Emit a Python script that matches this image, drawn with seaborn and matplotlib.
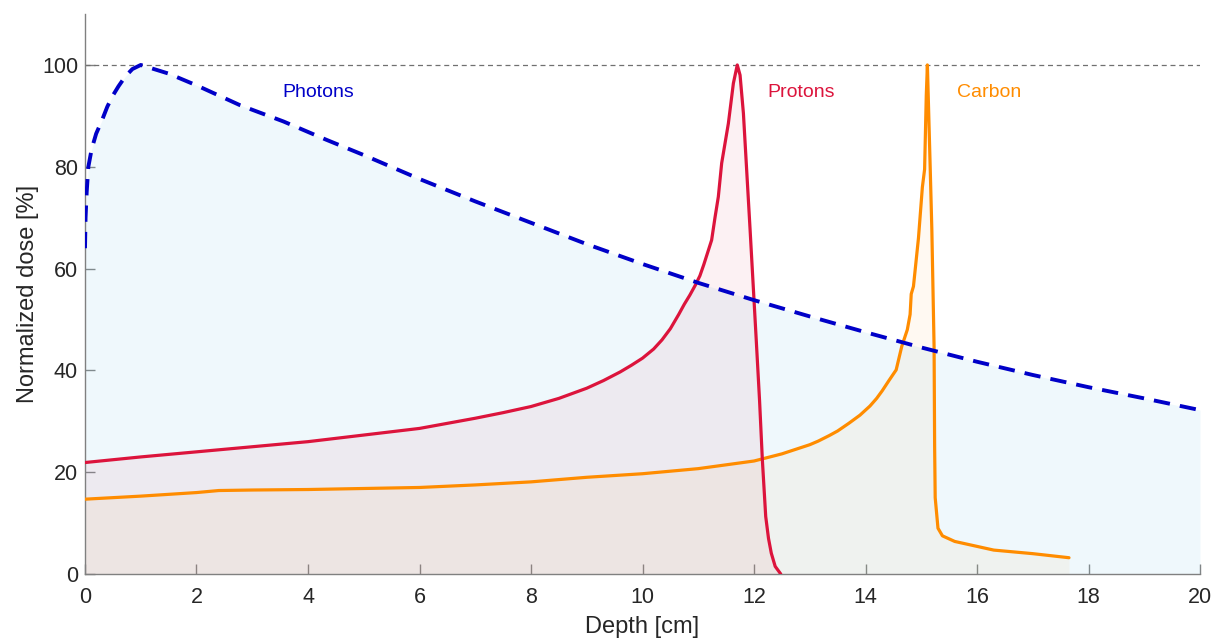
import numpy as np
import pandas as pd
import matplotlib
matplotlib.use('Agg')
import matplotlib.pyplot as plt
import seaborn as sns

# depth-dose curves
photon_depth = [0, 0.01, 0.03, 0.06, 0.12, 0.2, 0.3, 0.4, 0.5, 0.6, 0.72, 0.85, 1.0,
                1.5, 2, 2.78, 3.56, 4.33, 5, 6, 7, 8, 9, 10, 11, 12, 13, 14, 15,
                16, 17, 18, 19, 20]
photon_dose = [64, 70, 75, 80, 83.5, 86.5, 89, 91.8, 94, 95.8, 97.7, 99.2, 100,
               98.3, 96, 92.1, 88.9, 85.3, 82.3, 77.6, 73.2, 69, 64.8, 60.9, 57.2,
               53.8, 50.6, 47.5, 44.5, 41.7, 39.1, 36.7, 34.5, 32.2]

proton_depth = [0, 1, 2, 3, 4, 5, 6, 7, 7.5, 8, 8.5, 9, 9.3, 9.6, 9.8, 10, 10.2,
                10.35, 10.5, 10.65, 10.75, 10.85, 10.95, 11.03, 11.1, 11.24, 11.3,
                11.36, 11.42, 11.54, 11.63, 11.7, 11.75, 11.81, 11.93,
                12.04, 12.1, 12.15, 12.21, 12.26, 12.31, 12.38, 12.48]
proton_dose = [21.9, 23.0, 24.0, 25.0, 26.0, 27.3, 28.6, 30.6, 31.7, 32.9, 34.5,
               36.5, 38.0, 39.7, 41.0, 42.4, 44.2, 46.0, 48.2, 51.0, 53.0, 54.8,
               56.8, 58.6, 60.8, 65.6, 70, 74.1, 80.7, 88.5, 96.4, 100,
               98, 90.5, 67.6, 46, 34, 22.4, 11.3, 7, 4.1, 1.5, 0]

carbon_depth = [0, 1, 2, 2.4, 3, 4, 5, 6, 7, 8, 9, 10, 11, 12, 12.5, 12.75, 13,
                13.15, 13.35, 13.5, 13.7, 13.9, 14.08, 14.2, 14.3, 14.42, 14.55,
                14.65, 14.75, 14.8, 14.82, 14.86, 14.95,
                15.02, 15.06, 15.09, 15.11, 15.13, 15.16, 15.19, 15.23, 15.24,
                15.25, 15.3, 15.38, 15.6, 16.3, 17, 17.65]
carbon_dose = [14.7, 15.3, 16.0, 16.4, 16.5, 16.6, 16.8, 17.0, 17.5, 18.1, 19.0,
               19.7, 20.7, 22.2, 23.6, 24.5, 25.4, 26.1, 27.2, 28.1, 29.6, 31.2,
               33.0, 34.5, 36.0, 38.0, 40.1, 44.7, 48, 51, 55, 56.5, 66, 76, 79.5,
               94, 100, 92, 80, 67.6, 44.7, 25, 15, 9, 7.5, 6.4, 4.7, 4.0, 3.2]

labels = ['Photons', 'Protons', 'Carbon']
label_depth = [4.18, 12.84, 16.22]
label_dose = [94.5, 94.5, 94.5]
colors = ['#0000c8', '#dc143c', '#ff8c00']

sns.set_theme(style='white')
plt.rcParams['font.family'] = ['Liberation Sans', 'DejaVu Sans']

fig = plt.figure(figsize=(12.23, 6.39), dpi=100)
ax = fig.add_axes([0.0695, 0.1017, 0.9117, 0.8763])

# fills
ax.fill_between(photon_depth, photon_dose, color='#87ceeb', alpha=0.13, lw=0, zorder=1)
ax.fill_between(proton_depth, proton_dose, color=colors[1], alpha=0.06, lw=0, zorder=1)
ax.fill_between(carbon_depth, carbon_dose, color=colors[2], alpha=0.05, lw=0, zorder=1)

# 100% reference line
ax.axhline(100, color='#707070', lw=0.9, ls=(0, (4, 3)), zorder=2)

sns.lineplot(x=carbon_depth, y=carbon_dose, color=colors[2], lw=2.3,
             estimator=None, sort=False, ax=ax, zorder=3)
sns.lineplot(x=proton_depth, y=proton_dose, color=colors[1], lw=2.3,
             estimator=None, sort=False, ax=ax, zorder=3)
sns.lineplot(x=photon_depth, y=photon_dose, color=colors[0], lw=2.8,
             estimator=None, sort=False, ax=ax, zorder=4)
ax.lines[-1].set_linestyle((0, (4.2, 2.6)))

for name, xd, yd, c in zip(labels, label_depth, label_dose, colors):
    ax.text(xd, yd, name, color=c, fontsize=14, ha='center', va='center')

ax.set_xlim(0, 20)
ax.set_ylim(0, 110)
ax.set_xticks(np.arange(0, 21, 2))
ax.set_yticks(np.arange(0, 101, 20))
ax.set_xlabel('Depth [cm]', fontsize=17, color='#262626', labelpad=6)
ax.set_ylabel('Normalized dose [%]', fontsize=17, color='#262626', labelpad=2)

sns.despine(ax=ax)
for s in ['left', 'bottom']:
    ax.spines[s].set_color('#808080')
    ax.spines[s].set_linewidth(1.0)
ax.tick_params(axis='both', direction='in', length=7, width=1, color='#808080',
               labelsize=15.5, labelcolor='#262626', bottom=True, left=True)
ax.tick_params(axis='x', pad=9)
ax.tick_params(axis='y', pad=5)

fig.savefig('out.png', dpi=100)
